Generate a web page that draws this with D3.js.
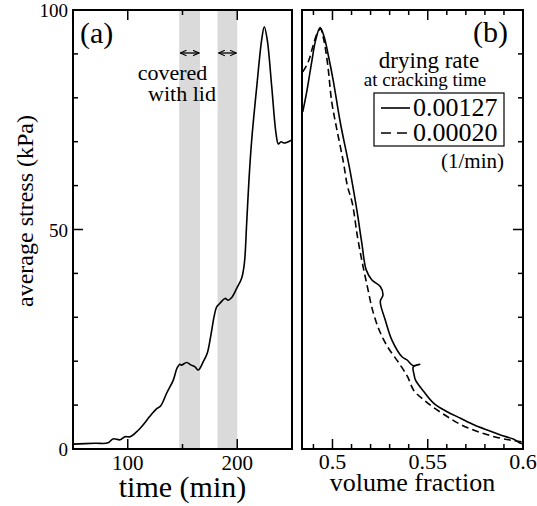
<!DOCTYPE html>
<html>
<head>
<meta charset="utf-8">
<script src="https://d3js.org/d3.v7.min.js"></script>
<style>
  body { margin: 0; background: #fff; }
  svg text { font-family: "Liberation Serif", Tinos, "Times New Roman", Times, "DejaVu Serif", serif; fill: #000; }
</style>
</head>
<body>
<div id="vis"></div>
<script>
// panel (a): time (min) vs average stress (kPa)
const timeA = [50, 70, 82, 86.5, 93, 97.5, 102, 108, 114, 120, 126, 130, 135.5, 141.6, 145, 147.7, 149, 153.8, 158, 161.4, 164.5,
  169, 172.6, 175.7, 178.8, 181.2, 184.2, 188.8, 191.8, 194.9, 199.5, 204, 206.5, 208.6, 210.7, 213.2, 217.8, 222.3, 224.7,
  227.4, 231.5, 235.4, 237.5, 240, 242.5, 245, 247.5, 250];
const stressA = [1.1, 1.3, 1.4, 2.3, 2.1, 2.8, 2.8, 3.9, 5.5, 7.4, 9.1, 9.8, 12.7, 15.7, 18.4, 19.3, 19.1, 19.7, 19.1, 18.7, 18.0,
  19.9, 21.8, 25.6, 30.1, 32.4, 33.2, 34.3, 33.9, 34.5, 36.6, 38.9, 42.3, 51.4, 61.3, 70.4, 82.5, 93.2, 96.2,
  93.2, 82.5, 71.9, 69.5, 70.0, 69.7, 69.8, 70.1, 70.4];
const lidPeriods = [[147, 166], [182, 200]];

// panel (b): volume fraction vs average stress, two drying rates
const phiSolid = [0.4844, 0.4865, 0.4891, 0.4912, 0.4935, 0.4956, 0.4978, 0.5005, 0.504, 0.5093, 0.5128, 0.5154, 0.5177,
  0.5207, 0.5251, 0.5265, 0.5251, 0.5277, 0.5312, 0.5365, 0.5391, 0.5422, 0.5458, 0.5424, 0.5428, 0.5436, 0.5479, 0.5532, 0.5602,
  0.5672, 0.5742, 0.5812, 0.5882, 0.5952, 0.5987, 0.6];
const stressSolid = [76.8, 81.4, 88.2, 93.2, 96.0, 93.9, 89.7, 83.7, 74.6, 63.2, 54.4, 46.9, 40.8,
  38.5, 37.0, 35.1, 33.6, 29.4, 24.8, 21.0, 20.3, 19.0, 19.3, 18.7, 17.0, 15.7, 13.1, 10.4, 8.5,
  7.0, 5.5, 4.3, 3.2, 2.2, 1.3, 1.2];
const phiDashed = [0.4844, 0.4873, 0.4899, 0.4921, 0.4937, 0.4953, 0.4975, 0.4996, 0.5022, 0.5057, 0.5078, 0.5104,
  0.5131, 0.5157, 0.5183, 0.521, 0.5245, 0.5289, 0.535, 0.5394, 0.5426, 0.5479, 0.5532, 0.5602, 0.5672, 0.5761,
  0.5849, 0.5937, 0.6];
const stressDashed = [85.9, 88.2, 92.0, 94.8, 95.7, 93.5, 87.5, 79.1, 73.0, 65.4, 60.0, 56.0,
  48.4, 42.3, 37.0, 31.7, 27.1, 23.3, 19.5, 16.5, 13.4, 11.2, 9.4, 7.4, 5.6, 4.0,
  2.8, 2.0, 1.6];
const rateLabels = ["0.00127", "0.00020"];

const width = 537, height = 506;
const yTop = 10, yBot = 449;
const svg = d3.select("#vis").append("svg").attr("width", width).attr("height", height);

const y = d3.scaleLinear().domain([0, 100]).range([yBot, yTop]);
const xa = d3.scaleLinear().domain([50, 250]).range([73, 292]);
const xb = d3.scaleLinear().domain([0.484, 0.6]).range([302, 523]);

// gray bands (lid periods)
svg.append("g").selectAll("rect").data(lidPeriods).enter().append("rect")
  .attr("x", d => xa(d[0])).attr("width", d => xa(d[1]) - xa(d[0]))
  .attr("y", yTop).attr("height", yBot - yTop)
  .attr("fill", "#dadada");

// ticks helper: inward ticks
function ticks(g, scale, values, len, side, pos) {
  values.forEach(v => {
    const p = scale(v);
    if (side === "bottom") g.append("line").attr("x1", p).attr("x2", p).attr("y1", pos).attr("y2", pos - len);
    if (side === "top") g.append("line").attr("x1", p).attr("x2", p).attr("y1", pos).attr("y2", pos + len);
    if (side === "left") g.append("line").attr("y1", p).attr("y2", p).attr("x1", pos).attr("x2", pos + len);
    if (side === "right") g.append("line").attr("y1", p).attr("y2", p).attr("x1", pos).attr("x2", pos - len);
  });
}

const tg = svg.append("g").attr("stroke", "#000").attr("stroke-width", 1.5);
ticks(tg, xa, [100, 200], 10, "bottom", yBot);
ticks(tg, xa, [150], 5, "bottom", yBot);
ticks(tg, xa, [100, 200], 10, "top", yTop);
ticks(tg, xa, [150], 5, "top", yTop);
ticks(tg, y, [50], 10, "left", 73);
ticks(tg, y, [10, 20, 30, 40, 60, 70, 80, 90], 5, "left", 73);
ticks(tg, xb, [0.5, 0.55], 10, "bottom", yBot);
ticks(tg, xb, [0.49, 0.51, 0.52, 0.53, 0.54, 0.56, 0.57, 0.58, 0.59], 5, "bottom", yBot);
ticks(tg, xb, [0.5, 0.55], 10, "top", yTop);
ticks(tg, xb, [0.49, 0.51, 0.52, 0.53, 0.54, 0.56, 0.57, 0.58, 0.59], 5, "top", yTop);
ticks(tg, y, [50], 10, "right", 523);
ticks(tg, y, [10, 20, 30, 40, 60, 70, 80, 90], 5, "right", 523);

// curves
const lineA = d3.line().x((d, i) => xa(timeA[i])).y(d => y(d)).curve(d3.curveCatmullRom);
svg.append("path").attr("d", lineA(stressA))
  .attr("fill", "none").attr("stroke", "#000").attr("stroke-width", 1.6);

const lineS = d3.line().x((d, i) => xb(phiSolid[i])).y(d => y(d)).curve(d3.curveCatmullRom);
svg.append("path").attr("d", lineS(stressSolid))
  .attr("fill", "none").attr("stroke", "#000").attr("stroke-width", 1.6);

const lineD = d3.line().x((d, i) => xb(phiDashed[i])).y(d => y(d)).curve(d3.curveCatmullRom);
svg.append("path").attr("d", lineD(stressDashed))
  .attr("fill", "none").attr("stroke", "#000").attr("stroke-width", 1.6).attr("stroke-dasharray", "7,4");

// frames
svg.append("rect").attr("x", 73).attr("y", yTop).attr("width", 292 - 73).attr("height", yBot - yTop)
  .attr("fill", "none").attr("stroke", "#000").attr("stroke-width", 2);
svg.append("rect").attr("x", 302).attr("y", yTop).attr("width", 523 - 302).attr("height", yBot - yTop)
  .attr("fill", "none").attr("stroke", "#000").attr("stroke-width", 2);

// tick labels
svg.append("g").selectAll("text").data([0, 50, 100]).enter().append("text")
  .attr("x", 68).attr("y", d => y(d) + 7).attr("text-anchor", "end")
  .style("font-size", "19px").text(d => d);
svg.append("g").selectAll("text").data([100, 200]).enter().append("text")
  .attr("x", d => xa(d)).attr("y", 470).attr("text-anchor", "middle")
  .style("font-size", "21px").text(d => d);
svg.append("g").selectAll("text").data([0.5, 0.55, 0.6]).enter().append("text")
  .attr("x", d => xb(d)).attr("y", 469).attr("text-anchor", "middle")
  .style("font-size", "22px").text(d => d);

// axis titles
svg.append("text").attr("x", 182.5).attr("y", 497).attr("text-anchor", "middle")
  .style("font-size", "30px").text("time (min)");
svg.append("text").attr("x", 412.5).attr("y", 491).attr("text-anchor", "middle")
  .style("font-size", "26px").text("volume fraction");
svg.append("text").attr("transform", "translate(33,211) rotate(-90)").attr("text-anchor", "middle")
  .style("font-size", "24px").text("average stress (kPa)");

// panel labels
svg.append("text").attr("x", 80).attr("y", 43).style("font-size", "30px").text("(a)");
svg.append("text").attr("x", 508).attr("y", 42).attr("text-anchor", "end").style("font-size", "30px").text("(b)");

// lid annotation
const arrowY = 53;
svg.append("defs").append("marker").attr("id", "head").attr("viewBox", "0 0 10 10")
  .attr("refX", 9).attr("refY", 5).attr("markerWidth", 7).attr("markerHeight", 7)
  .attr("orient", "auto-start-reverse").attr("markerUnits", "userSpaceOnUse")
  .append("path").attr("d", "M0,1 L9,5 L0,9").attr("fill", "none").attr("stroke", "#000").attr("stroke-width", 1.5);
svg.append("g").selectAll("line").data(lidPeriods).enter().append("line")
  .attr("x1", d => xa(d[0]) + 1).attr("x2", d => xa(d[1]) - 1)
  .attr("y1", arrowY).attr("y2", arrowY)
  .attr("stroke", "#000").attr("stroke-width", 1.3)
  .attr("marker-start", "url(#head)").attr("marker-end", "url(#head)");
svg.append("text").attr("x", 172.5).attr("y", 80).attr("text-anchor", "middle").style("font-size", "22px").text("covered");
svg.append("text").attr("x", 182).attr("y", 101).attr("text-anchor", "middle").style("font-size", "22px").text("with lid");

// legend
svg.append("text").attr("x", 429).attr("y", 68).attr("text-anchor", "middle").style("font-size", "23px").text("drying rate");
svg.append("text").attr("x", 425).attr("y", 86).attr("text-anchor", "middle").style("font-size", "19px").text("at cracking time");
svg.append("rect").attr("x", 374).attr("y", 93).attr("width", 130).attr("height", 53)
  .attr("fill", "#fff").attr("stroke", "#000").attr("stroke-width", 1.2);
const leg = svg.append("g").selectAll("g").data(rateLabels).enter().append("g")
  .attr("transform", (d, i) => `translate(0,${108 + i * 25})`);
leg.append("line").attr("x1", 381).attr("x2", 410).attr("y1", 0).attr("y2", 0)
  .attr("stroke", "#000").attr("stroke-width", 1.6)
  .attr("stroke-dasharray", (d, i) => i === 1 ? "10,6" : null);
leg.append("text").attr("x", 413).attr("y", 8).style("font-size", "26px").text(d => d);
svg.append("text").attr("x", 504).attr("y", 168).attr("text-anchor", "end").style("font-size", "21px").text("(1/min)");
</script>
</body>
</html>
